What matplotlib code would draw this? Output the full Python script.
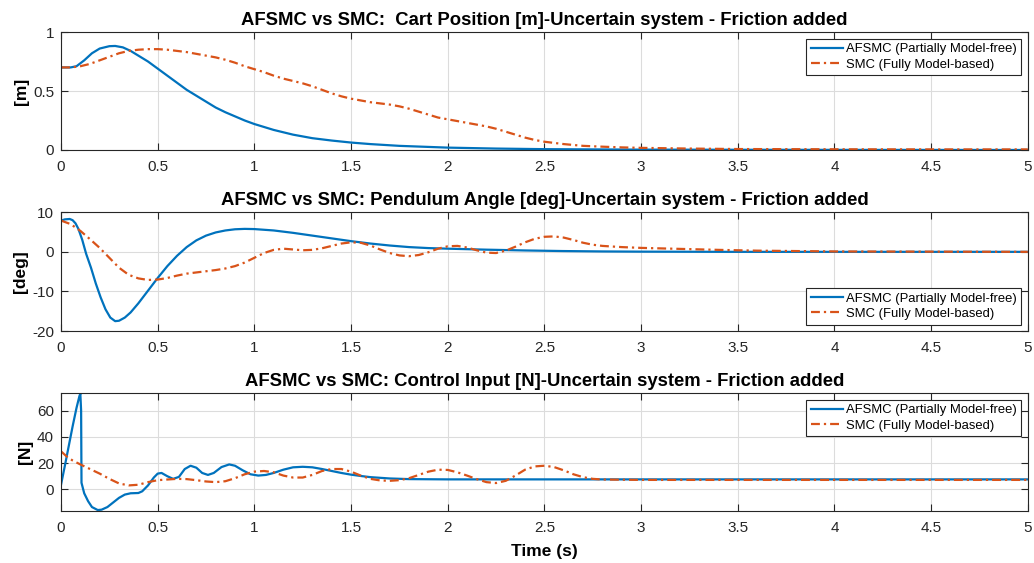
import numpy as np
import matplotlib.pyplot as plt

# ---- data ----
t_pos_afsmc = [0, 0.05, 0.08, 0.12, 0.16, 0.20, 0.25, 0.28, 0.32, 0.36, 0.40, 0.45, 0.50, 0.55, 0.60,
               0.65, 0.70, 0.75, 0.80, 0.85, 0.90, 0.95, 1.00, 1.10, 1.20, 1.30, 1.40, 1.50, 1.60,
               1.75, 2.00, 2.25, 2.50, 3.00, 4.00, 5.00]
pos_afsmc = [0.70, 0.70, 0.71, 0.76, 0.82, 0.86, 0.88, 0.882, 0.87, 0.84, 0.80, 0.75, 0.69, 0.63, 0.57,
             0.51, 0.46, 0.41, 0.36, 0.32, 0.285, 0.25, 0.22, 0.17, 0.13, 0.10, 0.08, 0.063, 0.05,
             0.035, 0.02, 0.012, 0.007, 0.003, 0.001, 0.0]

t_pos_smc = [0, 0.05, 0.10, 0.15, 0.20, 0.25, 0.30, 0.35, 0.40, 0.45, 0.50, 0.55, 0.60, 0.65, 0.70,
             0.75, 0.80, 0.85, 0.90, 0.95, 1.00, 1.05, 1.10, 1.15, 1.20, 1.25, 1.30, 1.35, 1.40,
             1.45, 1.50, 1.55, 1.60, 1.65, 1.70, 1.75, 1.80, 1.85, 1.90, 1.95, 2.00, 2.05, 2.10,
             2.15, 2.20, 2.25, 2.30, 2.35, 2.40, 2.45, 2.50, 2.60, 2.70, 2.80, 2.90, 3.00, 3.25,
             3.50, 4.00, 4.50, 5.00]
pos_smc = [0.70, 0.70, 0.71, 0.73, 0.76, 0.79, 0.82, 0.84, 0.85, 0.855, 0.855, 0.85, 0.84, 0.83, 0.815,
           0.80, 0.785, 0.765, 0.74, 0.71, 0.685, 0.66, 0.63, 0.605, 0.585, 0.565, 0.54, 0.51, 0.48,
           0.455, 0.435, 0.42, 0.405, 0.395, 0.385, 0.37, 0.35, 0.325, 0.30, 0.275, 0.26, 0.245, 0.23,
           0.215, 0.20, 0.18, 0.155, 0.13, 0.105, 0.085, 0.07, 0.05, 0.035, 0.028, 0.022, 0.018, 0.012,
           0.008, 0.006, 0.005, 0.005]

t_ang_afsmc = [0, 0.02, 0.045, 0.06, 0.075, 0.09, 0.11, 0.13, 0.155, 0.18, 0.205, 0.23, 0.255, 0.28, 0.30,
               0.33, 0.36, 0.40, 0.45, 0.50, 0.55, 0.60, 0.65, 0.70, 0.75, 0.80, 0.85, 0.90, 0.95,
               1.00, 1.10, 1.20, 1.30, 1.40, 1.50, 1.60, 1.70, 1.80, 1.90, 2.00, 2.20, 2.40, 2.60,
               2.80, 3.00, 3.50, 5.00]
ang_afsmc = [7.9, 8.2, 8.3, 8.0, 7.2, 5.8, 3.0, -0.5, -4.0, -8.0, -11.5, -14.5, -16.6, -17.5, -17.4,
             -16.6, -15.3, -13.0, -9.8, -6.6, -3.6, -1.0, 1.2, 2.9, 4.1, 4.9, 5.4, 5.7, 5.8,
             5.75, 5.4, 4.8, 4.1, 3.4, 2.7, 2.1, 1.6, 1.2, 0.95, 0.8, 0.55, 0.35, 0.2,
             0.1, 0.05, 0.0, 0.0]

t_ang_smc = [0, 0.05, 0.10, 0.15, 0.20, 0.25, 0.30, 0.35, 0.40, 0.45, 0.50, 0.55, 0.60, 0.65, 0.70,
             0.75, 0.80, 0.85, 0.90, 0.95, 1.00, 1.05, 1.10, 1.15, 1.20, 1.25, 1.30, 1.35, 1.40,
             1.45, 1.50, 1.55, 1.60, 1.65, 1.70, 1.75, 1.80, 1.85, 1.90, 1.95, 2.00, 2.05, 2.10,
             2.15, 2.20, 2.25, 2.30, 2.35, 2.40, 2.45, 2.50, 2.55, 2.60, 2.65, 2.70, 2.75, 2.80,
             2.90, 3.00, 3.20, 3.40, 3.60, 3.80, 4.00, 4.50, 5.00]
ang_smc = [7.9, 7.0, 5.3, 3.2, 1.0, -1.5, -4.0, -5.8, -6.7, -7.1, -7.0, -6.6, -6.0, -5.5, -5.2,
           -4.9, -4.6, -4.2, -3.6, -2.7, -1.5, -0.3, 0.5, 0.8, 0.6, 0.4, 0.5, 0.9, 1.5,
           2.1, 2.4, 2.3, 1.6, 0.6, -0.3, -0.9, -1.1, -0.8, -0.1, 0.8, 1.4, 1.5, 1.1,
           0.4, -0.2, -0.3, 0.3, 1.3, 2.4, 3.3, 3.8, 3.9, 3.6, 3.0, 2.3, 1.8, 1.5,
           1.2, 1.0, 0.75, 0.5, 0.3, 0.2, 0.1, 0.05, 0.0]

t_u_afsmc = [0, 0.02, 0.04, 0.06, 0.08, 0.095, 0.10, 0.104, 0.106, 0.12, 0.14, 0.16, 0.19, 0.21,
             0.24, 0.27, 0.30, 0.33, 0.36, 0.40, 0.42, 0.45, 0.48, 0.50, 0.52, 0.55, 0.58, 0.61,
             0.64, 0.67, 0.70, 0.73, 0.76, 0.79, 0.83, 0.87, 0.90, 0.94, 0.98, 1.02, 1.06, 1.10,
             1.15, 1.20, 1.25, 1.30, 1.35, 1.40, 1.45, 1.50, 1.55, 1.60, 1.70, 1.80, 2.00, 5.00]
u_afsmc = [3.5, 18, 33, 48, 62, 71, 73, 60, 5, -3, -9, -13.5, -15.8, -15.5,
           -13.5, -10, -6.5, -4, -3, -2.8, -1.5, 3, 9, 12, 12.5, 10, 8, 9.5,
           15.5, 18, 16.5, 12.5, 11, 12.5, 17, 19, 18, 14.5, 11.5, 10.5, 11, 12.5,
           15, 16.8, 17.2, 16.8, 15.5, 14, 12.5, 11.2, 10.2, 9.3, 8.3, 7.8, 7.6, 7.6]

t_u_smc = [0, 0.03, 0.06, 0.10, 0.15, 0.20, 0.25, 0.30, 0.35, 0.40, 0.45, 0.50, 0.55, 0.60, 0.65,
           0.70, 0.75, 0.80, 0.85, 0.90, 0.95, 1.00, 1.05, 1.10, 1.15, 1.20, 1.25, 1.30, 1.35,
           1.40, 1.45, 1.50, 1.55, 1.60, 1.65, 1.70, 1.75, 1.80, 1.85, 1.90, 1.95, 2.00, 2.05,
           2.10, 2.15, 2.20, 2.25, 2.30, 2.35, 2.40, 2.45, 2.50, 2.55, 2.60, 2.65, 2.70, 2.75,
           2.80, 3.00, 5.00]
u_smc = [29, 25, 22, 19, 15.5, 12, 8, 4.5, 3, 3.5, 5.5, 7, 7.5, 8, 7.8,
         7, 6, 5.5, 6.2, 8.5, 11.5, 13.5, 14, 13, 10.5, 9, 9, 11, 14,
         15.5, 15.5, 13.5, 10.5, 8, 6.8, 6.5, 7, 8.5, 11, 13.5, 15, 14.8, 13,
         10.5, 7.8, 5.5, 4.8, 6.5, 10.5, 15, 17.5, 18, 17, 14.5, 11.5, 9.3, 8,
         7.5, 7.2, 7.2]

titles = ["AFSMC vs SMC:  Cart Position [m]-Uncertain system - Friction added",
          "AFSMC vs SMC: Pendulum Angle [deg]-Uncertain system - Friction added",
          "AFSMC vs SMC: Control Input [N]-Uncertain system - Friction added"]
ylabels = ["[m]", "[deg]", "[N]"]
labels = ["AFSMC (Partially Model-free)", "SMC (Fully Model-based)"]
x_ticks = [0, 0.5, 1, 1.5, 2, 2.5, 3, 3.5, 4, 4.5, 5]
x_ticklabels = ["0", "0.5", "1", "1.5", "2", "2.5", "3", "3.5", "4", "4.5", "5"]
y_ticks = [[0, 0.5, 1], [-20, -10, 0, 10], [0, 20, 40, 60]]
y_ticklabels = [["0", "0.5", "1"], ["-20", "-10", "0", "10"], ["0", "20", "40", "60"]]
y_lims = [(0, 1), (-20, 10), (-16.5, 73.5)]

blue = "#0072BD"
orange = "#D95319"

plt.rcParams["font.family"] = ["Liberation Sans", "DejaVu Sans"]

fig = plt.figure(figsize=(10.34, 5.63), dpi=100)
boxes = [[0.059, 0.7336, 0.935, 0.2095],
         [0.059, 0.412, 0.935, 0.211],
         [0.059, 0.0924, 0.935, 0.2096]]

series = [(t_pos_afsmc, pos_afsmc, t_pos_smc, pos_smc),
          (t_ang_afsmc, ang_afsmc, t_ang_smc, ang_smc),
          (t_u_afsmc, u_afsmc, t_u_smc, u_smc)]
legend_locs = ["upper right", "lower right", "upper right"]

for i in range(3):
    ax = fig.add_axes(boxes[i])
    ta, ya, ts, ys = series[i]
    ax.plot(ta, ya, color=blue, lw=1.6, label=labels[0])
    ax.plot(ts, ys, color=orange, lw=1.6, dashes=(4, 1.8, 1, 1.8), label=labels[1])
    ax.set_xlim(0, 5)
    ax.set_ylim(*y_lims[i])
    ax.set_xticks(x_ticks)
    ax.set_xticklabels(x_ticklabels)
    ax.set_yticks(y_ticks[i])
    ax.set_yticklabels(y_ticklabels[i])
    ax.grid(True, color="#dcdcdc", lw=0.8)
    ax.set_axisbelow(True)
    ax.tick_params(direction="in", top=True, right=True, length=5, width=0.8,
                   labelsize=11, colors="#262626", labelcolor="#262626")
    ax.tick_params(axis="x", pad=7)
    ax.tick_params(axis="y", pad=5)
    for sp in ax.spines.values():
        sp.set_color("#262626")
        sp.set_linewidth(0.8)
    ax.set_title(titles[i], fontsize=13.3, fontweight="bold", pad=5)
    ax.set_ylabel(ylabels[i], fontsize=12.5, fontweight="bold", labelpad=3)
    leg = ax.legend(loc=legend_locs[i], fontsize=9.4, fancybox=False, framealpha=1,
                    edgecolor="#262626", handlelength=2.45, handletextpad=0.25,
                    borderpad=0.35, labelspacing=0.25, borderaxespad=0.5)
    leg.get_frame().set_linewidth(0.8)
    if i == 2:
        ax.set_xlabel("Time (s)", fontsize=12.5, fontweight="bold", labelpad=7)

fig.savefig("out.png", dpi=100)
